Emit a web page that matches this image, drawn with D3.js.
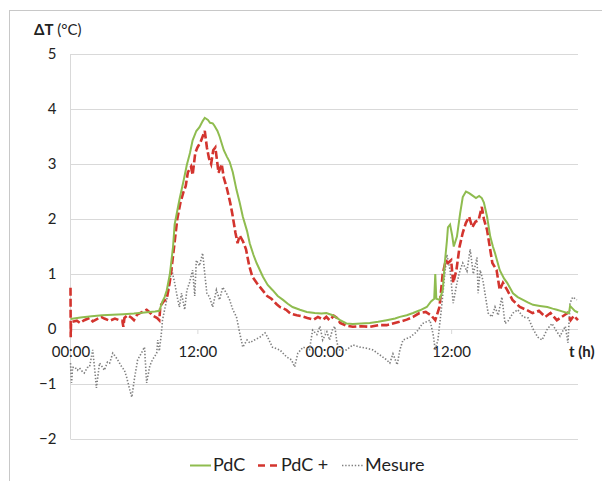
<!DOCTYPE html>
<html><head><meta charset="utf-8">
<script src="https://cdn.jsdelivr.net/npm/d3@7/dist/d3.min.js"></script>
<style>
body{margin:0;background:#fff;}
svg{display:block;font-family:Lato,"Open Sans",sans-serif;}
</style></head>
<body>
<svg id="c" width="602" height="481"></svg>
<script>
// ---- data (hours, °C) ----
const yTicks = [-2,-1,0,1,2,3,4,5];
const xTicks = [0,12,24,36];
const xTickLabels = ["00:00","12:00","00:00","12:00"];
const seriesNames = ["PdC","PdC +","Mesure"];

const pdc = [[0,0.18],[0.95,0.21],[2,0.23],[3,0.25],[4,0.26],[5,0.27],[6,0.28],[7,0.3],[8,0.32],[8.4,0.33],[8.7,0.5],[8.9,0.58],[9.1,0.7],[9.4,1.0],[9.7,1.5],[9.85,1.9],[10.3,2.35],[10.7,2.7],[11,2.98],[11.3,3.2],[11.55,3.43],[11.9,3.6],[12.2,3.67],[12.5,3.78],[12.7,3.84],[13,3.8],[13.2,3.75],[13.45,3.74],[13.6,3.7],[13.9,3.6],[14.1,3.5],[14.5,3.25],[14.8,3.13],[15.05,3.04],[15.35,2.85],[15.7,2.53],[16,2.3],[16.3,2.04],[16.7,1.78],[16.95,1.56],[17.3,1.35],[17.6,1.2],[18.2,0.95],[18.65,0.8],[19.1,0.71],[19.6,0.6],[20.1,0.53],[20.55,0.46],[21,0.4],[21.7,0.35],[22.35,0.31],[23.1,0.29],[23.75,0.28],[24.2,0.29],[24.8,0.25],[25.5,0.16],[26.1,0.1],[26.7,0.09],[27.5,0.1],[28.3,0.11],[29.1,0.13],[29.9,0.16],[30.7,0.19],[31.15,0.22],[31.8,0.25],[32.4,0.29],[33.05,0.34],[33.7,0.4],[34.1,0.5],[34.4,0.55],[34.5,1.0],[34.6,0.55],[34.9,0.53],[35.2,0.7],[35.4,1.2],[35.6,1.6],[35.7,1.85],[35.9,1.9],[36.1,1.7],[36.25,1.5],[36.55,1.68],[36.85,2.1],[37.1,2.4],[37.4,2.5],[37.7,2.47],[38,2.43],[38.35,2.38],[38.65,2.42],[38.9,2.38],[39.1,2.3],[39.4,2.04],[39.7,1.68],[39.95,1.5],[40.15,1.38],[40.6,1.07],[41,0.92],[41.3,0.84],[41.85,0.65],[42.3,0.58],[42.8,0.53],[43.3,0.48],[43.75,0.44],[44.4,0.42],[45.1,0.4],[45.6,0.37],[46,0.35],[46.5,0.32],[47,0.29],[47.15,0.29],[47.25,0.42],[47.45,0.38],[47.7,0.33],[48,0.3]];

const pdcPlus = [[0,0.75],[0.02,-0.15],[0.05,0.12],[0.1,0.13],[0.6,0.15],[0.9,0.11],[1.3,0.16],[1.8,0.2],[2.1,0.14],[2.5,0.18],[2.9,0.22],[3.2,0.19],[3.7,0.15],[4.2,0.19],[4.6,0.16],[4.9,0.15],[5.0,0.04],[5.1,0.2],[5.4,0.25],[5.8,0.2],[6.0,0.16],[6.3,0.26],[6.8,0.31],[7.2,0.35],[7.5,0.3],[7.8,0.24],[8.2,0.2],[8.4,0.16],[8.5,0.42],[8.8,0.5],[9.1,0.55],[9.3,0.75],[9.5,1.0],[9.8,1.5],[10.1,2.0],[10.4,2.3],[10.7,2.5],[10.9,2.6],[11.1,2.85],[11.4,2.95],[11.55,2.8],[11.8,3.2],[12.0,3.3],[12.3,3.4],[12.5,3.5],[12.7,3.6],[12.9,3.3],[13.1,3.1],[13.3,3.0],[13.5,3.25],[13.7,3.3],[13.9,3.0],[14.0,2.84],[14.3,3.0],[14.5,2.75],[14.8,2.55],[15.1,2.3],[15.3,2.1],[15.6,1.75],[15.8,1.56],[16.0,1.7],[16.3,1.6],[16.6,1.45],[16.9,1.15],[17.2,0.95],[17.6,0.84],[18.1,0.72],[18.6,0.6],[19.0,0.55],[19.5,0.45],[19.8,0.4],[20.4,0.35],[20.8,0.28],[21.4,0.25],[21.9,0.23],[22.4,0.2],[23.0,0.17],[23.4,0.22],[23.9,0.17],[24.2,0.22],[24.5,0.16],[24.9,0.24],[25.2,0.2],[25.5,0.11],[26.1,0.06],[26.7,0.04],[27.5,0.05],[28.3,0.04],[29.1,0.07],[29.9,0.07],[30.5,0.1],[31.1,0.13],[31.8,0.17],[32.4,0.22],[33.0,0.29],[33.6,0.31],[34.1,0.25],[34.5,0.16],[34.9,0.4],[35.2,1.0],[35.5,1.25],[35.7,1.2],[36.0,1.25],[36.2,0.84],[36.5,1.07],[36.8,1.5],[37.1,1.75],[37.4,1.93],[37.7,2.04],[38.0,1.85],[38.3,1.95],[38.6,1.98],[38.9,2.22],[39.1,2.0],[39.4,1.8],[39.7,1.44],[39.9,1.2],[40.3,1.07],[40.6,0.71],[40.9,0.84],[41.3,0.71],[41.8,0.53],[42.5,0.4],[43.1,0.35],[43.7,0.29],[44.3,0.33],[44.9,0.22],[45.4,0.29],[46.0,0.16],[46.7,0.25],[47.0,0.29],[47.3,0.16],[47.6,0.24],[48.0,0.16]];

const mesure = [[0,-0.62],[0.1,-0.98],[0.2,-0.7],[0.4,-0.69],[0.65,-0.75],[0.85,-0.71],[1.15,-0.78],[1.3,-0.8],[1.6,-0.7],[1.8,-0.69],[2.1,-0.38],[2.3,-0.75],[2.45,-1.07],[2.75,-0.62],[3.05,-0.7],[3.2,-0.75],[3.5,-0.6],[3.7,-0.62],[4,-0.44],[4.25,-0.5],[4.45,-0.56],[4.85,-0.69],[5.1,-0.75],[5.3,-0.87],[5.6,-1.1],[5.8,-1.24],[6.05,-0.9],[6.35,-0.56],[6.7,-0.44],[7,-0.33],[7.2,-0.98],[7.5,-0.67],[7.75,-0.56],[8.15,-0.44],[8.25,-0.2],[8.4,-0.4],[8.6,-0.07],[8.7,0.16],[8.9,0.35],[9.1,0.53],[9.4,0.89],[9.55,1.1],[9.85,0.84],[10.15,0.53],[10.3,0.4],[10.5,0.65],[10.8,0.35],[11,0.7],[11.25,0.84],[11.55,1.07],[11.75,0.6],[11.9,1.25],[12.2,1.15],[12.5,1.38],[12.7,1.0],[12.9,0.65],[13.15,0.58],[13.45,0.4],[13.8,0.71],[14.1,0.53],[14.4,0.76],[14.75,0.65],[15.05,0.53],[15.35,0.35],[15.7,0.22],[16,-0.07],[16.3,-0.33],[16.7,-0.2],[16.95,-0.25],[17.4,-0.2],[17.9,-0.15],[18.4,-0.07],[18.65,-0.15],[19.1,-0.33],[19.8,-0.38],[20.45,-0.51],[20.9,-0.56],[21.2,-0.69],[21.5,-0.44],[22,-0.33],[22.6,-0.38],[22.9,-0.02],[23.3,-0.1],[23.6,0.05],[23.85,-0.2],[24.25,-0.05],[24.5,-0.2],[24.8,0.0],[25,0.05],[25.2,-0.25],[25.45,-0.38],[26.1,-0.38],[26.7,-0.29],[27.4,-0.33],[28,-0.35],[28.6,-0.38],[29.25,-0.47],[29.9,-0.56],[30.2,-0.62],[30.5,-0.45],[30.9,-0.65],[31.15,-0.38],[31.45,-0.2],[32.1,-0.15],[32.75,-0.05],[33.3,0.1],[34,0.16],[34.3,-0.1],[34.5,-0.38],[34.75,-0.2],[35.1,0.4],[35.4,1.0],[35.6,1.35],[35.9,1.07],[36.2,0.47],[36.55,0.84],[36.85,1.07],[37.1,1.2],[37.5,1.05],[37.8,1.45],[38.1,1.0],[38.45,1.3],[38.55,0.65],[38.75,1.07],[39,0.89],[39.2,0.65],[39.5,0.29],[39.85,0.22],[40.15,0.4],[40.45,0.25],[40.8,0.58],[41.1,0.1],[41.4,0.15],[41.85,0.29],[42.3,0.35],[42.8,0.22],[43.3,0.2],[43.75,0.0],[44.2,-0.15],[44.6,-0.2],[45.1,0.0],[45.55,0.1],[46,-0.05],[46.3,-0.13],[46.8,0.05],[47.05,-0.25],[47.25,0.47],[47.5,0.58],[47.9,0.53]];

// ---- drawing ----
const svg = d3.select("#c");
const mLeft = 70.5, mRight = 578, mTop = 54, mBottom = 439;
const x = d3.scaleLinear().domain([0,48]).range([mLeft,mRight]);
const y = d3.scaleLinear().domain([-2,5]).range([mBottom,mTop]);

const colGreen = "#8fbc4f", colRed = "#d3342e", colGray = "#7f7f7f";

// chart border
svg.append("rect").attr("x",9.5).attr("y",10.5).attr("width",600).attr("height",480)
  .attr("fill","none").attr("stroke","#c8c8c8").attr("stroke-width",1);

// horizontal gridlines via axis
const gAxisY = svg.append("g").attr("transform",`translate(${mLeft},0)`)
  .call(d3.axisLeft(y).tickValues(yTicks).tickSize(-(mRight-mLeft)).tickFormat(d3.format("d")).tickPadding(14));
gAxisY.select(".domain").remove();
gAxisY.selectAll(".tick line").attr("stroke","#d9d9d9").attr("stroke-width",1);
gAxisY.selectAll(".tick text").attr("fill","#222").attr("font-size",15).attr("font-family","Lato");

// vertical y-axis line
svg.append("line").attr("x1",mLeft).attr("x2",mLeft).attr("y1",mTop).attr("y2",mBottom)
  .attr("stroke","#d9d9d9");

// x axis at y=0
const gAxisX = svg.append("g").attr("transform",`translate(0,${y(0)})`)
  .call(d3.axisBottom(x).tickValues(xTicks).tickSize(5).tickFormat((d,i)=>xTickLabels[i]).tickPadding(12));
gAxisX.select(".domain").remove();
gAxisX.selectAll(".tick line").attr("stroke","#d9d9d9");
gAxisX.selectAll(".tick text").attr("fill","#222").attr("font-size",15).attr("font-family","Lato");

// series
const line = d3.line().x(d=>x(d[0])).y(d=>y(d[1]));
svg.append("path").datum(mesure).attr("d",line).attr("fill","none")
  .attr("stroke",colGray).attr("stroke-width",1.6).attr("stroke-dasharray","1.4,1.8");
svg.append("path").datum(pdcPlus).attr("d",line).attr("fill","none")
  .attr("stroke",colRed).attr("stroke-width",2.6).attr("stroke-dasharray","8,3");
svg.append("path").datum(pdc).attr("d",line).attr("fill","none")
  .attr("stroke",colGreen).attr("stroke-width",2);

// axis titles
const tY = svg.append("text").attr("x",34).attr("y",35).attr("font-size",15).attr("fill","#222");
tY.append("tspan").attr("font-weight","bold").text("ΔT");
tY.append("tspan").text(" (°C)");
svg.append("text").attr("x",569).attr("y",357).attr("font-size",15).attr("font-weight","bold")
  .attr("fill","#222").text("t (h)");

// legend
const legend = [
  {name:seriesNames[0], color:colGreen, dash:null, w:2, x1:190},
  {name:seriesNames[1], color:colRed, dash:"7,5", w:2.6, x1:258},
  {name:seriesNames[2], color:colGray, dash:"1.4,1.8", w:1.6, x1:342}
];
const lg = svg.append("g");
legend.forEach(l=>{
  lg.append("line").attr("x1",l.x1).attr("x2",l.x1+21).attr("y1",465.5).attr("y2",465.5)
    .attr("stroke",l.color).attr("stroke-width",l.w).attr("stroke-dasharray",l.dash);
  lg.append("text").attr("x",l.x1+23).attr("y",471).attr("font-size",18).attr("fill","#222").text(l.name);
});
</script>
</body></html>
